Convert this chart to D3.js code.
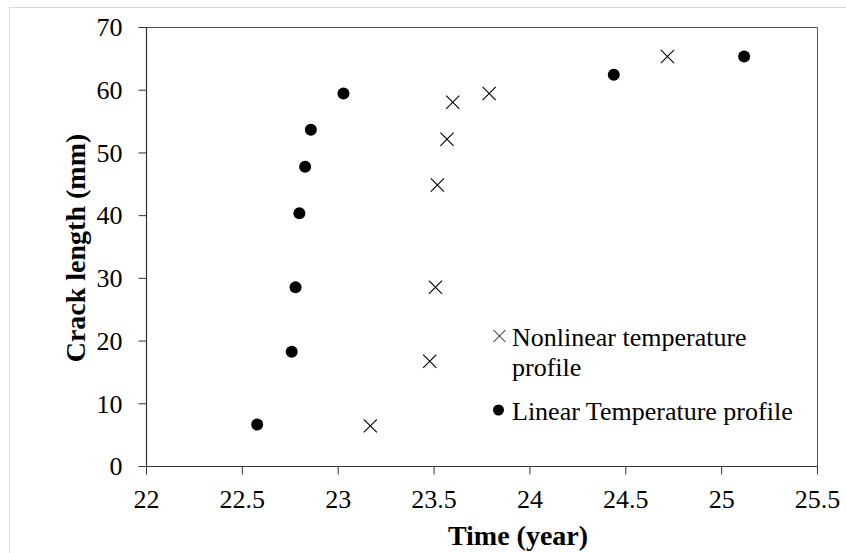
<!DOCTYPE html>
<html>
<head>
<meta charset="utf-8">
<script src="https://cdn.jsdelivr.net/npm/d3@7"></script>
<style>
	body { margin: 0; background: #fff; }
	svg { display: block; }
	svg text { font-family: "Liberation Serif", "Times New Roman", serif; }
	.axis-title { font-size: 28px; font-weight: bold; fill: #000; }
	.legend text { font-size: 26px; fill: #000; }
</style>
</head>
<body>
<div id="chart"></div>
<script>
// Crack length vs time
var nonlinearTime = [23.17, 23.48, 23.51, 23.52, 23.57, 23.60, 23.79, 24.72];
var nonlinearCrack = [6.4, 16.7, 28.5, 44.8, 52.1, 58.0, 59.4, 65.3];

var linearTime = [22.58, 22.76, 22.78, 22.80, 22.83, 22.86, 23.03, 24.44, 25.12];
var linearCrack = [6.6, 18.2, 28.5, 40.3, 47.7, 53.6, 59.4, 62.4, 65.3];

var xTicks = [22, 22.5, 23, 23.5, 24, 24.5, 25, 25.5];
var yTicks = [0, 10, 20, 30, 40, 50, 60, 70];

var seriesNames = ["Nonlinear temperature profile", "Linear Temperature profile"];

drawChart();

function drawChart() {

	var width = 846,
		height = 553,
		margin = {top: 27, right: 29, bottom: 87, left: 146};

	var svg = d3.select("#chart").append("svg")
		.attr("width", width)
		.attr("height", height);

	// light outer frame, only its top and left show in the picture
	svg.append("rect")
		.attr("x", 9.5)
		.attr("y", 7.5)
		.attr("width", 1000)
		.attr("height", 1000)
		.attr("fill", "none")
		.attr("stroke", "#d9d9d9");

	var x = d3.scaleLinear()
		.domain([22, 25.5])
		.range([margin.left, width - margin.right]);

	var y = d3.scaleLinear()
		.domain([0, 70])
		.range([height - margin.bottom, margin.top]);

	// plot box top and right
	svg.append("path")
		.attr("d", "M" + x(22) + "," + (y(70) + 0.5) + "H" + (x(25.5) + 0.5) + "V" + y(0))
		.attr("fill", "none")
		.attr("stroke", "#555");

	var xAxis = svg.append("g")
		.attr("transform", "translate(0," + (y(0) + 0.5) + ")")
		.call(d3.axisBottom(x).tickValues(xTicks).tickSize(8).tickPadding(15).tickFormat(d3.format("")));

	var yAxis = svg.append("g")
		.attr("transform", "translate(" + (x(22) + 0.5) + ",0)")
		.call(d3.axisLeft(y).tickValues(yTicks).tickSize(8).tickPadding(16));

	[xAxis, yAxis].forEach(function(a) {
		a.attr("font-family", null).attr("font-size", null);
		a.select(".domain").attr("stroke", "#333").attr("stroke-width", 1.2).attr("d", a === xAxis
			? "M" + (x(22) - 0.5) + ",0H" + (x(25.5) + 0.5)
			: "M0," + y(70) + "V" + (y(0) + 0.5));
		a.selectAll(".tick line").attr("stroke", "#333");
		a.selectAll(".tick text")
			.style("font-family", "'Liberation Serif', 'Times New Roman', serif")
			.style("font-size", "26px")
			.style("fill", "#000");
	});
	yAxis.selectAll(".tick text").attr("dy", "0.34em");

	// axis titles
	svg.append("text")
		.attr("class", "axis-title")
		.attr("x", 518)
		.attr("y", 545)
		.attr("text-anchor", "middle")
		.text("Time (year)");

	svg.append("text")
		.attr("class", "axis-title")
		.attr("transform", "translate(85," + 248 + ") rotate(-90)")
		.attr("text-anchor", "middle")
		.text("Crack length (mm)");

	// nonlinear series: crosses
	var cross = d3.symbol().type(d3.symbolX).size(115);

	svg.append("g").selectAll("path")
		.data(d3.zip(nonlinearTime, nonlinearCrack))
		.enter().append("path")
		.attr("transform", function(d) { return "translate(" + x(d[0]) + "," + y(d[1]) + ")"; })
		.attr("d", cross)
		.attr("fill", "none")
		.attr("stroke", "#000")
		.attr("stroke-width", 1.1);

	// linear series: filled dots
	svg.append("g").selectAll("circle")
		.data(d3.zip(linearTime, linearCrack))
		.enter().append("circle")
		.attr("cx", function(d) { return x(d[0]); })
		.attr("cy", function(d) { return y(d[1]); })
		.attr("r", 6)
		.attr("fill", "#000");

	// legend
	var legend = svg.append("g").attr("class", "legend");

	legend.append("path")
		.attr("transform", "translate(499.5,336)")
		.attr("d", d3.symbol().type(d3.symbolX).size(95))
		.attr("fill", "none")
		.attr("stroke", "#000")
		.attr("stroke-width", 1);

	var firstName = seriesNames[0].split(" ");
	legend.append("text")
		.attr("x", 512)
		.attr("y", 346)
		.text(firstName.slice(0, 2).join(" "));
	legend.append("text")
		.attr("x", 512)
		.attr("y", 376)
		.text(firstName.slice(2).join(" "));

	legend.append("circle")
		.attr("cx", 498.5)
		.attr("cy", 410)
		.attr("r", 5.5)
		.attr("fill", "#000");

	legend.append("text")
		.attr("x", 512)
		.attr("y", 420)
		.text(seriesNames[1]);
}
</script>
</body>
</html>
